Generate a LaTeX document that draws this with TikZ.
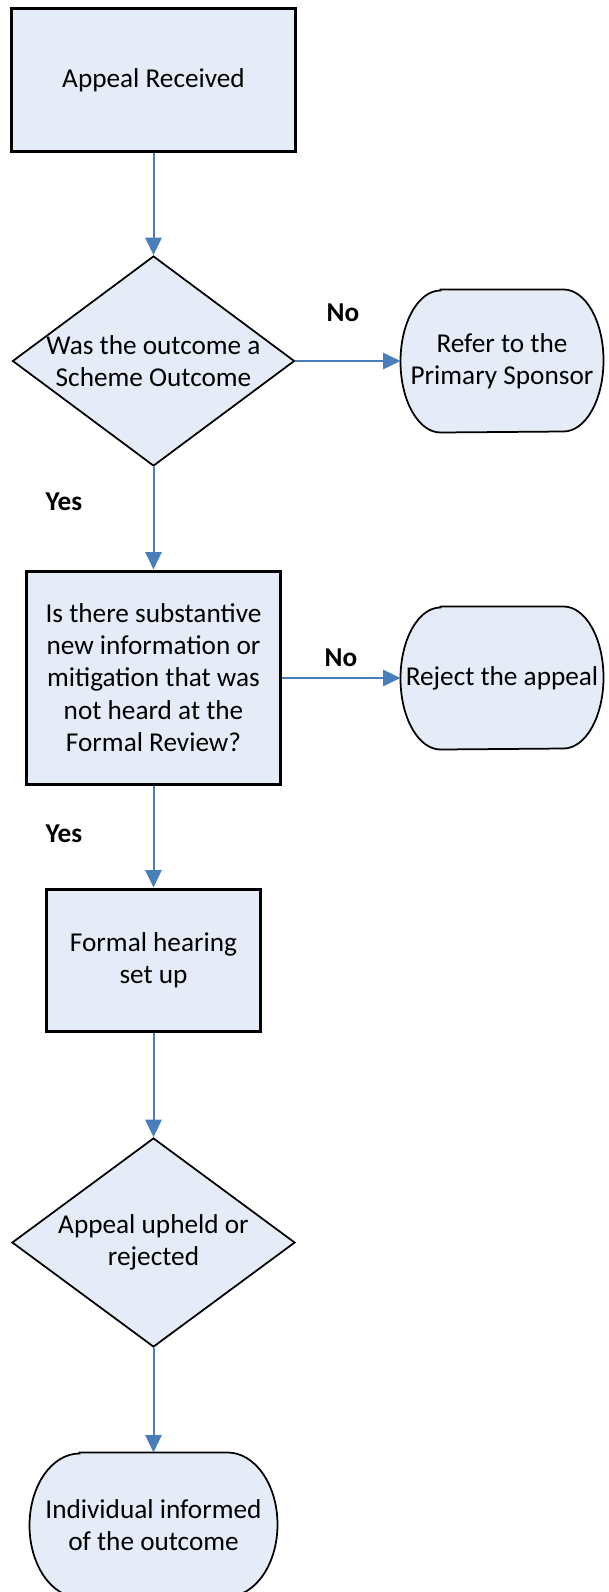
\documentclass[tikz,border=0pt]{standalone}
\usepackage{fontspec}
\setmainfont{Carlito}
\usepackage{tikz}
\usetikzlibrary{positioning,arrows.meta,shapes.geometric,backgrounds}
\usepackage{xcolor}
\definecolor{boxfill}{RGB}{230,236,247}
\definecolor{flowblue}{RGB}{74,126,187}

\begin{document}
\begin{tikzpicture}[x=0.4pt, y=-0.4pt,
    font=\fontsize{10.9}{12.9}\selectfont,
    stepbox/.style={draw, line width=1.2pt, fill=boxfill, rectangle, align=center, inner sep=0pt},
    decision/.style={draw, line width=0.7pt, fill=boxfill, diamond, aspect=1.34, inner sep=-4pt, align=center},
    terminal/.style={rectangle, inner sep=0pt, align=center, minimum width=80.8pt, minimum height=56.8pt},
    flow/.style={draw=flowblue, line width=0.8pt, -{Triangle[length=7pt,width=6.5pt]}},
    answer/.style={font=\fontsize{10.9}{12.9}\selectfont\bfseries}]
                \useasboundingbox (0,0) rectangle (608,1592);

                % Main column
                \node[stepbox, minimum width=113.2pt, minimum height=56.8pt] (recv) at (153.5,80) {Appeal Received};
                \node[decision, minimum width=112.8pt, minimum height=84pt] (scheme) at (153.5,361) {Was the outcome a\\Scheme Outcome};
                \node[stepbox, minimum width=101.6pt, minimum height=85.2pt] (newinfo) at (153.5,677.5) {
                Is there substantive\\
                new information or\\
                mitigation that was\\
                not heard at the\\
                Formal Review?
                };
                \node[stepbox, minimum width=85.2pt, minimum height=56.8pt] (hearing) at (153.5,960) {Formal hearing\\set up};
                \node[decision, minimum width=113.2pt, minimum height=83.6pt] (upheld) at (153.5,1242.5) {Appeal upheld or\\rejected};
                \node[terminal, minimum width=98.8pt, minimum height=57.6pt] (inform) at (153.5,1525) {Individual informed\\of the outcome};

                % Side exits
                \node[terminal] (refer) at (502,361) {Refer to the\\Primary Sponsor};
                \node[terminal] (reject) at (502,678) {Reject the appeal};

                % Terminal outlines
                \begin{scope}[on background layer]
                \foreach \n/\rx/\ry in {refer/16pt/28.4pt, reject/16pt/28.4pt, inform/20pt/28.8pt}
                  \draw[line width=0.7pt, fill=boxfill]
                    ([xshift=\rx]\n.north west) -- ([xshift=-\rx]\n.north east)
                    arc[start angle=90, end angle=-90, x radius=\rx, y radius=\ry]
                    -- ([xshift=\rx]\n.south west)
                    arc[start angle=270, end angle=90, x radius=\rx, y radius=\ry] -- cycle;
                \end{scope}

                % Connectors
                \draw[flow] (recv) -- (scheme);
                \draw[flow] (scheme) -- (newinfo);
                \draw[flow] (newinfo) -- (hearing);
                \draw[flow] (hearing) -- (upheld);
                \draw[flow] (upheld) -- (inform);
                \draw[flow] (scheme) -- (refer);
                \draw[flow] (newinfo.east |- reject.west) -- (reject);

                % Yes / No labels
                \node[answer] (no1) at (343,313) {No};
                \node[answer] (no2) at (341,658) {No};
                \node[answer] (yes1) at (64,502) {Yes};
                \node[answer] (yes2) at (64,834) {Yes};
            \end{tikzpicture}
\end{document}
